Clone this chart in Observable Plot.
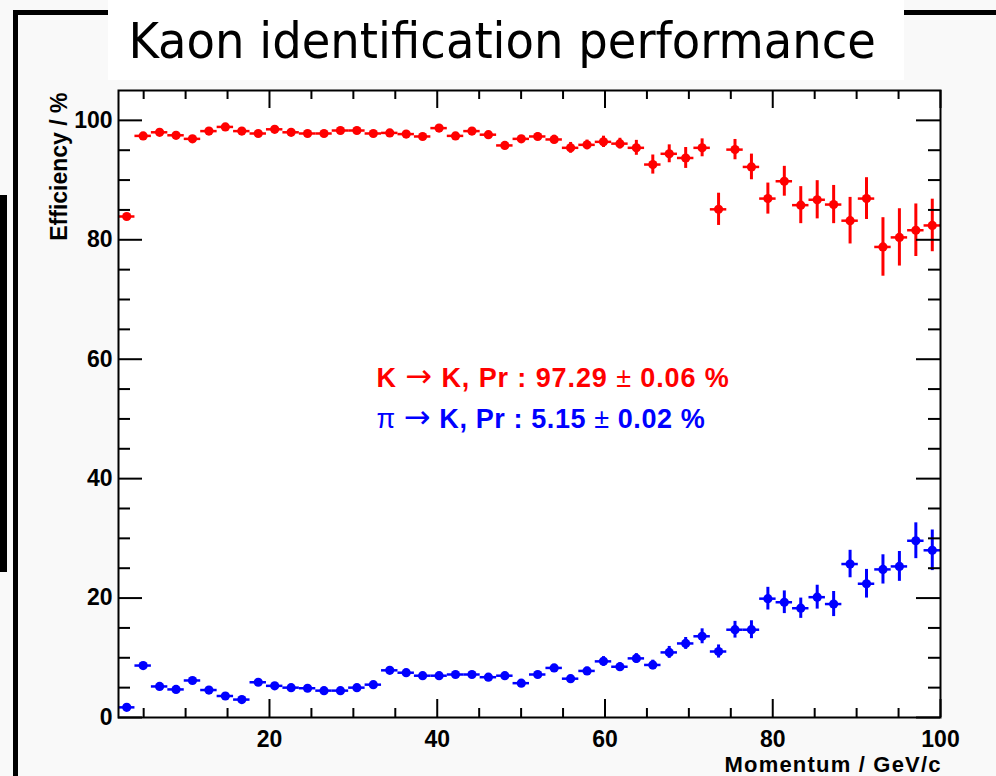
<!DOCTYPE html>
<html>
<head>
<meta charset="utf-8">
<script src="https://cdn.jsdelivr.net/npm/d3@7"></script>
<script src="https://cdn.jsdelivr.net/npm/@observablehq/plot@0.6"></script>
<style>
  html, body { margin: 0; padding: 0; background: #f9f9f9; }
  #page { position: relative; width: 996px; height: 776px; overflow: hidden; background: #f9f9f9; }
  #titlebar { position: relative; height: 80px; }
  #title { position: absolute; left: 108px; top: 0; width: 796px; height: 80px; background: #fff;
           font-family: "DejaVu Sans Condensed", "DejaVu Sans", sans-serif; font-stretch: condensed;
           font-size: 49px; line-height: 57px; padding-top: 13px; box-sizing: border-box;
           text-align: center; padding-right: 7px; color: #000; white-space: nowrap; }
  #title span { display: inline-block; transform: scaleX(1.055); transform-origin: 50% 50%; }
  .deco { position: absolute; background: #000; z-index: 5; }
  #chart svg { display: block; }
</style>
</head>
<body>
<div id="page">
  <div id="titlebar"><div id="title"><span>Kaon identification performance</span></div></div>
  <div id="chart"></div>
  <div class="deco" style="left:13px; top:10px; width:4.5px; height:766px;"></div>
  <div class="deco" style="left:13px; top:10px; width:95px; height:5px;"></div>
  <div class="deco" style="left:904px; top:10px; width:92px; height:5px;"></div>
  <div class="deco" style="left:0px; top:195px; width:7px; height:377px;"></div>
</div>
<script>
// ---- data ----
const xCenters = [2.98, 4.94, 6.90, 8.86, 10.82, 12.78, 14.74, 16.70, 18.66, 20.62,
  22.58, 24.54, 26.50, 28.46, 30.42, 32.38, 34.34, 36.30, 38.26, 40.22,
  42.18, 44.14, 46.10, 48.06, 50.02, 51.98, 53.94, 55.90, 57.86, 59.82,
  61.78, 63.74, 65.70, 67.66, 69.62, 71.58, 73.54, 75.50, 77.46, 79.42,
  81.38, 83.34, 85.30, 87.26, 89.22, 91.18, 93.14, 95.10, 97.06, 99.02];
const binHalfWidth = 0.98;

const kaonEff = [83.9, 97.4, 98.0, 97.5, 96.9, 98.2, 98.9, 98.2, 97.8, 98.5,
  98.0, 97.8, 97.8, 98.3, 98.3, 97.8, 97.9, 97.7, 97.3, 98.7,
  97.4, 98.2, 97.6, 95.8, 96.9, 97.3, 96.8, 95.4, 95.9, 96.4,
  96.1, 95.4, 92.6, 94.4, 93.7, 95.4, 85.1, 95.1, 92.2, 86.9,
  89.8, 85.8, 86.7, 85.9, 83.2, 86.9, 78.8, 80.4, 81.6, 82.4];
const kaonErr = [0.4, 0.25, 0.2, 0.2, 0.2, 0.2, 0.2, 0.2, 0.2, 0.2,
  0.2, 0.2, 0.25, 0.25, 0.25, 0.3, 0.3, 0.3, 0.35, 0.35,
  0.4, 0.4, 0.45, 0.5, 0.55, 0.6, 0.7, 0.9, 0.8, 0.95,
  0.9, 1.25, 1.6, 1.5, 1.75, 1.5, 2.7, 1.7, 2.15, 2.6,
  2.5, 3.1, 3.2, 3.2, 3.9, 3.5, 4.9, 4.8, 4.4, 4.4];

const pionEff = [1.7, 8.7, 5.2, 4.7, 6.2, 4.6, 3.6, 3.0, 5.9, 5.3,
  5.0, 4.9, 4.5, 4.5, 5.0, 5.5, 7.9, 7.5, 7.0, 7.0,
  7.2, 7.2, 6.75, 7.0, 5.75, 7.2, 8.3, 6.5, 7.8, 9.4,
  8.5, 9.9, 8.8, 10.9, 12.4, 13.6, 11.05, 14.7, 14.7, 19.9,
  19.3, 18.3, 20.15, 19.0, 25.7, 22.4, 24.8, 25.3, 29.6, 28.0];
const pionErr = [0.1, 0.2, 0.15, 0.15, 0.15, 0.15, 0.15, 0.15, 0.15, 0.15,
  0.15, 0.15, 0.15, 0.15, 0.2, 0.2, 0.25, 0.25, 0.25, 0.25,
  0.3, 0.3, 0.3, 0.35, 0.35, 0.5, 0.55, 0.55, 0.6, 0.8,
  0.7, 0.8, 0.8, 1.0, 1.0, 1.25, 1.1, 1.4, 1.5, 1.9,
  1.9, 1.7, 2.0, 2.1, 2.3, 2.4, 2.45, 2.5, 3.0, 3.4];

const xMajorTicks = [20, 40, 60, 80, 100];
const xMinorTicks = [5, 10, 15, 25, 30, 35, 45, 50, 55, 65, 70, 75, 85, 90, 95];
const yMajorTicks = [0, 20, 40, 60, 80, 100];
const yMinorTicks = [5, 10, 15, 25, 30, 35, 45, 50, 55, 65, 70, 75, 85, 90, 95];

const xTitle = "Momentum / GeV/c";
const yTitle = "Efficiency / %";
const kaonLabel = "K \u2192 K, Pr : 97.29 \u00B1 0.06 %";
const pionLabel = "\u03C0 \u2192 K, Pr : 5.15 \u00B1 0.02 %";

const RED = "#ff0000", BLUE = "#0000ff";

// ---- tables ----
const kaon = xCenters.map((x, i) => ({x, y: kaonEff[i], e: kaonErr[i]}));
const pion = xCenters.map((x, i) => ({x, y: pionEff[i], e: pionErr[i]}));

const width = 996, height = 696;
const mL = 118, mR = 56, mT = 10, mB = 59;
const frameW = width - mL - mR;
const frameH = height - mT - mB;

function series(data, color) {
  return [
    Plot.ruleY(data, {y: "y", x1: d => d.x - binHalfWidth, x2: d => d.x + binHalfWidth, stroke: color, strokeWidth: 2.5}),
    Plot.ruleX(data, {x: "x", y1: d => d.y - d.e, y2: d => d.y + d.e, stroke: color, strokeWidth: 3}),
    Plot.dot(data, {x: "x", y: "y", r: 4.6, fill: color, stroke: "none"})
  ];
}

const fontFamily = "'Liberation Sans', Arial, Helvetica, sans-serif";

const chart = Plot.plot({
  width, height,
  marginLeft: mL, marginRight: mR, marginTop: mT, marginBottom: mB,
  style: {fontFamily, fontSize: "23px", background: "transparent", overflow: "visible", color: "#000"},
  x: {domain: [2, 100], label: null},
  y: {domain: [0, 105], label: null},
  marks: [
    Plot.frame({fill: "#fff", stroke: "none"}),
    ...series(kaon, RED),
    ...series(pion, BLUE),
    // inward ticks on all four sides
    Plot.ruleX(xMajorTicks, {insetTop: frameH - 18, stroke: "#000", strokeWidth: 2}),
    Plot.ruleX(xMinorTicks, {insetTop: frameH - 9, stroke: "#000", strokeWidth: 2}),
    Plot.ruleX(xMajorTicks, {insetBottom: frameH - 18, stroke: "#000", strokeWidth: 2}),
    Plot.ruleX(xMinorTicks, {insetBottom: frameH - 9, stroke: "#000", strokeWidth: 2}),
    Plot.ruleY(yMajorTicks, {insetRight: frameW - 24, stroke: "#000", strokeWidth: 2}),
    Plot.ruleY(yMinorTicks, {insetRight: frameW - 12, stroke: "#000", strokeWidth: 2}),
    Plot.ruleY(yMajorTicks, {insetLeft: frameW - 24, stroke: "#000", strokeWidth: 2}),
    Plot.ruleY(yMinorTicks, {insetLeft: frameW - 12, stroke: "#000", strokeWidth: 2}),
    Plot.frame({stroke: "#000", strokeWidth: 2}),
    Plot.axisX({ticks: xMajorTicks, tickSize: 0, tickPadding: 13, fontSize: 23, fontWeight: "bold", label: null}),
    Plot.axisY({ticks: yMajorTicks, tickSize: 0, tickPadding: 6, fontSize: 23, fontWeight: "bold", label: null}),
    Plot.text([xTitle], {text: d => d, frameAnchor: "bottom-right", textAnchor: "end", lineAnchor: "bottom",
      dx: 1.2, dy: 54.3, fontSize: 22, fontWeight: "bold"}),
    Plot.text([yTitle], {text: d => d, frameAnchor: "top-left", rotate: -90, textAnchor: "end", lineAnchor: "bottom",
      dx: -52, dy: 2, fontSize: 23, fontWeight: "bold"}),
    Plot.text([kaonLabel], {text: d => d, frameAnchor: "top-left", textAnchor: "start", lineAnchor: "bottom",
      dx: 258, dy: 296, fontSize: 27, fontWeight: "bold", fill: RED}),
    Plot.text([pionLabel], {text: d => d, frameAnchor: "top-left", textAnchor: "start", lineAnchor: "bottom",
      dx: 258, dy: 337, fontSize: 27, fontWeight: "bold", fill: BLUE})
  ]
});

// Symbols (arrow, plus-minus, pi) drawn in a regular-weight symbol style, as in the reference
chart.querySelectorAll("text").forEach(t => {
  const s = t.textContent;
  if (s === xTitle) t.setAttribute("letter-spacing", "1.2");
  if (!/[\u2192\u00B1\u03C0]/.test(s) || t.children.length) return;
  t.setAttribute("letter-spacing", s === kaonLabel ? "0.9" : "0.6");
  t.textContent = "";
  s.split(/([\u2192\u00B1\u03C0])/).forEach(part => {
    if (!part) return;
    const ts = document.createElementNS("http://www.w3.org/2000/svg", "tspan");
    ts.textContent = part;
    if (/[\u2192\u00B1\u03C0]/.test(part)) ts.setAttribute("font-weight", "normal");
    if (part === "\u2192") {
      ts.setAttribute("font-family", "'DejaVu Sans', sans-serif");
      ts.setAttribute("font-size", "32");
    }
    t.appendChild(ts);
  });
});

document.getElementById("chart").appendChild(chart);
</script>
</body>
</html>
